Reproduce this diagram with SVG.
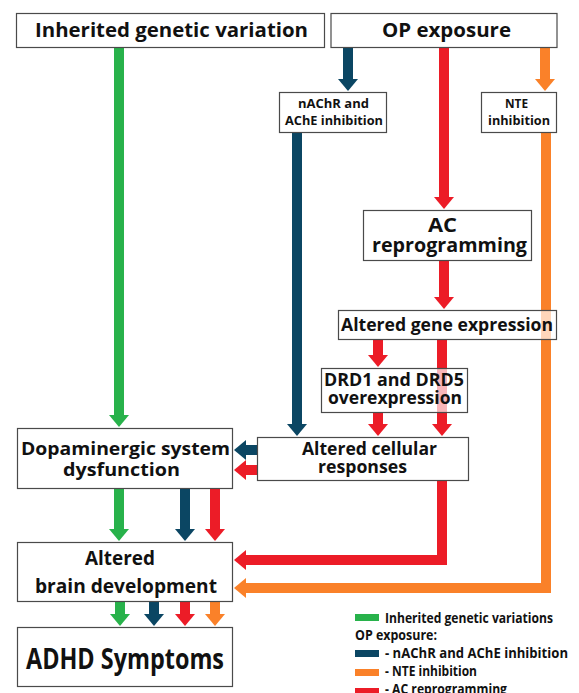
<svg xmlns="http://www.w3.org/2000/svg" width="579" height="693" viewBox="0 0 579 693">
<style>
.box{fill:#fff;fill-opacity:0.68;stroke:#4a4a4a;stroke-width:1.2}
.t{font-family:"Open Sans","Liberation Sans",sans-serif;font-weight:700;fill:#111}
.c{fill:none;stroke-width:10;stroke-linejoin:miter}
.g{stroke:#28b24b}.b{stroke:#0b4663}.r{stroke:#ec1c27}.o{stroke:#fa8129}
</style>
<defs>
<marker id="mg" markerUnits="userSpaceOnUse" markerWidth="12" markerHeight="20" refX="1" refY="10" orient="auto"><path d="M0,0 L12,10 L0,20 z" fill="#28b24b"/></marker>
<marker id="mb" markerUnits="userSpaceOnUse" markerWidth="12" markerHeight="20" refX="1" refY="10" orient="auto"><path d="M0,0 L12,10 L0,20 z" fill="#0b4663"/></marker>
<marker id="mr" markerUnits="userSpaceOnUse" markerWidth="12" markerHeight="20" refX="1" refY="10" orient="auto"><path d="M0,0 L12,10 L0,20 z" fill="#ec1c27"/></marker>
<marker id="mo" markerUnits="userSpaceOnUse" markerWidth="12" markerHeight="20" refX="1" refY="10" orient="auto"><path d="M0,0 L12,10 L0,20 z" fill="#fa8129"/></marker>
</defs>
<g id="connectors">
<path class="c g" d="M119,48 V416" marker-end="url(#mg)"/>
<path class="c b" d="M348,48 V80" marker-end="url(#mb)"/>
<path class="c o" d="M545,48 V80" marker-end="url(#mo)"/>
<path class="c r" d="M444,48 V198" marker-end="url(#mr)"/>
<path class="c r" d="M444,261 V298" marker-end="url(#mr)"/>
<path class="c r" d="M378,339 V356" marker-end="url(#mr)"/>
<path class="c r" d="M442,339 V425" marker-end="url(#mr)"/>
<path class="c r" d="M378,413 V425" marker-end="url(#mr)"/>
<path class="c b" d="M297,133 V425" marker-end="url(#mb)"/>
<path class="c b" d="M257,450 H245" marker-end="url(#mb)"/>
<path class="c r" d="M257,470 H245" marker-end="url(#mr)"/>
<path class="c g" d="M119,489 V530" marker-end="url(#mg)"/>
<path class="c b" d="M185,489 V530" marker-end="url(#mb)"/>
<path class="c r" d="M215,489 V530" marker-end="url(#mr)"/>
<path class="c r" d="M442,481 V560 H245" marker-end="url(#mr)"/>
<path class="c o" d="M546,133 V588 H245" marker-end="url(#mo)"/>
<path class="c g" d="M120,602 V615" marker-end="url(#mg)"/>
<path class="c b" d="M154,602 V615" marker-end="url(#mb)"/>
<path class="c r" d="M185,602 V615" marker-end="url(#mr)"/>
<path class="c o" d="M215,602 V615" marker-end="url(#mo)"/>
</g>
<g id="n-inherited"><rect class="box" x="16.5" y="13.5" width="308" height="34"/><text class="t" x="35" y="37" font-size="20" textLength="273" lengthAdjust="spacingAndGlyphs">Inherited genetic variation</text></g>
<g id="n-op"><rect class="box" x="331" y="13.5" width="226" height="34"/><text class="t" x="382" y="37" font-size="20" textLength="129" lengthAdjust="spacingAndGlyphs">OP exposure</text></g>
<g id="n-nachr"><rect class="box" x="279.5" y="92.5" width="107" height="40"/><text class="t" x="298" y="108" font-size="13" textLength="71" lengthAdjust="spacingAndGlyphs">nAChR and</text><text class="t" x="285" y="125" font-size="13" textLength="98" lengthAdjust="spacingAndGlyphs">AChE inhibition</text></g>
<g id="n-nte"><rect class="box" x="481.5" y="92.5" width="75" height="40"/><text class="t" x="505" y="108" font-size="13" textLength="23" lengthAdjust="spacingAndGlyphs">NTE</text><text class="t" x="488" y="125" font-size="13" textLength="62" lengthAdjust="spacingAndGlyphs">inhibition</text></g>
<g id="n-ac"><rect class="box" x="363.5" y="210.5" width="168" height="50"/><text class="t" x="428" y="232" font-size="19" textLength="29" lengthAdjust="spacingAndGlyphs">AC</text><text class="t" x="372" y="252" font-size="19" textLength="155" lengthAdjust="spacingAndGlyphs">reprogramming</text></g>
<g id="n-gene"><rect class="box" x="338.5" y="310.5" width="218" height="29"/><text class="t" x="341" y="331" font-size="17" textLength="212" lengthAdjust="spacingAndGlyphs">Altered gene expression</text></g>
<g id="n-drd"><rect class="box" x="321.5" y="368.5" width="146" height="44"/><text class="t" x="324" y="386" font-size="17" textLength="140" lengthAdjust="spacingAndGlyphs">DRD1 and DRD5</text><text class="t" x="328" y="404" font-size="17" textLength="134" lengthAdjust="spacingAndGlyphs">overexpression</text></g>
<g id="n-cellular"><rect class="box" x="257.5" y="437.5" width="211" height="43"/><text class="t" x="302" y="455" font-size="18" textLength="135" lengthAdjust="spacingAndGlyphs">Altered cellular</text><text class="t" x="318" y="473" font-size="18" textLength="89" lengthAdjust="spacingAndGlyphs">responses</text></g>
<g id="n-dopa"><rect class="box" x="17.5" y="428.5" width="215" height="60"/><text class="t" x="21" y="455" font-size="18" textLength="209" lengthAdjust="spacingAndGlyphs">Dopaminergic system</text><text class="t" x="63" y="476" font-size="18" textLength="117" lengthAdjust="spacingAndGlyphs">dysfunction</text></g>
<g id="n-brain"><rect class="box" x="17.5" y="542.5" width="215" height="59"/><text class="t" x="85" y="565" font-size="19" textLength="70" lengthAdjust="spacingAndGlyphs">Altered</text><text class="t" x="35" y="593" font-size="19" textLength="182" lengthAdjust="spacingAndGlyphs">brain development</text></g>
<g id="n-adhd"><rect class="box" x="17.5" y="627.5" width="215" height="59"/><text class="t" x="26" y="669" font-size="28" textLength="198" lengthAdjust="spacingAndGlyphs">ADHD Symptoms</text></g>
<g id="legend">
<rect x="355" y="614" width="24" height="7" fill="#28b24b"/>
<text class="t" x="385" y="623" font-size="14" textLength="168" lengthAdjust="spacingAndGlyphs">Inherited genetic variations</text>
<text class="t" x="355" y="640" font-size="14" textLength="82" lengthAdjust="spacingAndGlyphs">OP exposure:</text>
<rect x="355" y="650" width="24" height="7" fill="#0b4663"/>
<text class="t" x="385" y="658" font-size="14" textLength="183" lengthAdjust="spacingAndGlyphs">- nAChR and AChE inhibition</text>
<rect x="355" y="669" width="24" height="7" fill="#fa8129"/>
<text class="t" x="385" y="676" font-size="14" textLength="92" lengthAdjust="spacingAndGlyphs">- NTE inhibition</text>
<rect x="355" y="688" width="24" height="7" fill="#ec1c27"/>
<text class="t" x="385" y="694" font-size="14" textLength="122" lengthAdjust="spacingAndGlyphs">- AC reprogramming</text>
</g>
</svg>
